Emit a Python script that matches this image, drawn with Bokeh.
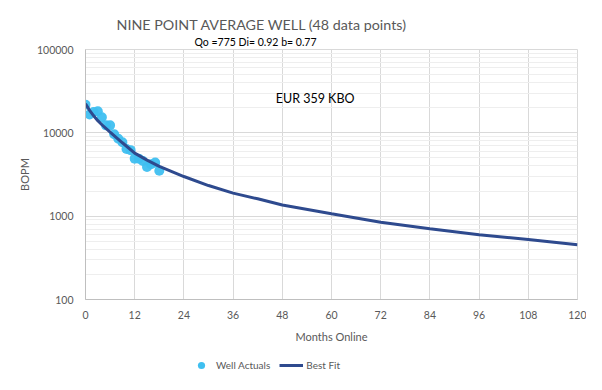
from bokeh.plotting import figure
from bokeh.layouts import column
from bokeh.models import (FixedTicker, NumeralTickFormatter, Title, Label,
                          Legend, LegendItem, Range1d)
from bokeh.embed import file_html
from bokeh.resources import INLINE

# ---- data ----
actual_months = [0, 1, 2, 3, 4, 5, 6, 7, 8, 9, 10, 11, 12, 13, 14, 15, 16, 17, 18]
actual_bopm = [21800, 16600, 17800, 18200, 15400, 12300, 12300, 9600, 8500, 7700,
               6400, 6200, 4900, 4900, 4600, 3900, 4200, 4400, 3500]

fit_months = [0, 1, 2, 3, 4, 6, 9, 12, 15, 18, 24, 30, 36, 42, 48, 60, 72, 84, 96, 108, 120]
fit_bopm = [22300, 18600, 16000, 14000, 12500, 10200, 7600, 5700, 4700, 3950, 2990,
            2330, 1890, 1615, 1360, 1067, 847, 705, 600, 525, 453]

x_ticks = [0, 12, 24, 36, 48, 60, 72, 84, 96, 108, 120]
y_ticks = [100, 1000, 10000, 100000]
y_minor = [m * d for d in (100, 1000, 10000) for m in range(2, 10)]

title_text = "NINE POINT AVERAGE WELL (48 data points)"
subtitle_text = "Qo =775  Di= 0.92 b= 0.77"
eur_text = "EUR 359 KBO"

FONT = "Lato"
GREY = "#595959"
DOT = "#3fbff0"
LINE = "#2e4a8e"

p = figure(width=586, height=356, y_axis_type="log",
           x_range=Range1d(0, 120), y_range=Range1d(100, 100000),
           output_backend="svg", toolbar_location=None,
           min_border_left=85, min_border_right=9,
           min_border_top=49, min_border_bottom=57,
           title=None)

p.background_fill_color = "white"
p.border_fill_color = "white"
p.outline_line_color = "#d9d9d9"

# grids
p.xgrid.ticker = FixedTicker(ticks=x_ticks)
p.ygrid.ticker = FixedTicker(ticks=y_ticks, minor_ticks=y_minor)
p.xgrid.grid_line_color = "#d9d9d9"
p.ygrid.grid_line_color = "#d9d9d9"
p.ygrid.minor_grid_line_color = "#eeeeee"

# axes
p.xaxis.ticker = FixedTicker(ticks=x_ticks)
p.yaxis.ticker = FixedTicker(ticks=y_ticks, minor_ticks=y_minor)
p.yaxis.formatter = NumeralTickFormatter(format="0")
for ax in (p.xaxis, p.yaxis):
    ax.major_tick_line_color = None
    ax.minor_tick_line_color = None
    ax.major_tick_out = 0
    ax.major_tick_in = 0
    ax.minor_tick_out = 0
    ax.minor_tick_in = 0
    ax.axis_line_color = "#bfbfbf"
    ax.major_label_text_color = GREY
    ax.major_label_text_font = FONT
    ax.major_label_text_font_size = "10.5px"
    ax.axis_label_text_color = GREY
    ax.axis_label_text_font = FONT
    ax.axis_label_text_font_size = "11px"
    ax.axis_label_text_font_style = "normal"
p.xaxis.axis_label = "Months Online"
p.yaxis.axis_label = "BOPM"
p.xaxis.major_label_standoff = 11
p.yaxis.major_label_standoff = 12
p.xaxis.axis_label_standoff = 8
p.yaxis.axis_label_standoff = 3

# glyphs
sc = p.scatter(actual_months, actual_bopm, size=10, fill_color=DOT,
               line_color=None, fill_alpha=0.95)
ln = p.line(fit_months, fit_bopm, line_color=LINE, line_width=3)

# texts
p.add_layout(Title(text=subtitle_text, align="left", offset=109,
                   text_font=FONT, text_font_size="10.5px", text_color="black",
                   text_font_style="normal", standoff=3), "above")
p.add_layout(Title(text=title_text, align="left", offset=31,
                   text_font=FONT, text_font_size="14.3px", text_color=GREY,
                   text_font_style="normal", standoff=0), "above")

p.add_layout(Label(x=56, y=25800, text=eur_text, text_align="center",
                   text_baseline="middle", text_font=FONT,
                   text_font_size="12.5px", text_color="black"))

# legend strip under the chart (its sample glyphs sit outside its ranges)
lf = figure(width=586, height=18, x_range=Range1d(0, 1), y_range=Range1d(0, 1),
            output_backend="svg", toolbar_location=None, min_border=0,
            x_axis_location=None, y_axis_location=None, title=None)
lf.outline_line_color = None
lf.grid.visible = False
lf.border_fill_color = "white"
r1 = lf.scatter(actual_months[:2], actual_bopm[:2], size=10, fill_color=DOT,
                line_color=None)
r2 = lf.line(fit_months[:2], fit_bopm[:2], line_color=LINE, line_width=3)
legend = Legend(items=[LegendItem(label="Well Actuals", renderers=[r1]),
                       LegendItem(label="Best Fit", renderers=[r2])],
                orientation="horizontal", location=(104, 0),
                border_line_color=None, background_fill_alpha=0,
                label_text_font=FONT, label_text_font_size="10px",
                label_text_color=GREY, padding=0, spacing=9,
                glyph_width=24, glyph_height=18, label_height=18,
                label_standoff=3, margin=0)
lf.add_layout(legend, "center")

layout = column(p, lf, spacing=0)
open("out.html", "w").write(file_html(layout, INLINE))
